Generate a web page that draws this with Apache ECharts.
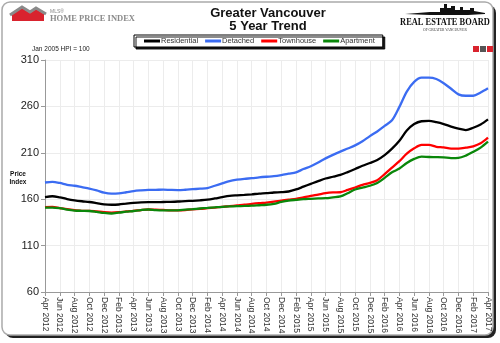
<!DOCTYPE html>
<html><head><meta charset="utf-8">
<script src="https://cdn.jsdelivr.net/npm/echarts@6/dist/echarts.min.js"></script>
<style>html,body{margin:0;padding:0;background:#fff}#c{width:500px;height:343px}</style>
</head><body><div id="c"></div>
<script>
var months = [];
var monNames = ['Jan','Feb','Mar','Apr','May','Jun','Jul','Aug','Sep','Oct','Nov','Dec'];
(function(){ for (var k = 0; k < 61; k++) { var m = (3 + k) % 12; var y = 2012 + Math.floor((3 + k) / 12); months.push(monNames[m] + ' ' + y); } })();

var residential = [162.3,163.2,162,160.2,158.8,157.8,157,155.8,154.5,154,154.3,155.2,156,156.6,156.8,156.8,157,157.2,157.5,158,158.3,158.8,159.5,160.8,162.3,163.6,164.2,164.7,165.3,166,166.5,167.2,167.6,168.3,170.5,173.5,176.5,179.5,182.3,184.2,186.2,189.2,192.5,196,199,202.3,207.5,214.5,223,234,241,244,244.3,243,241,238.3,236,234.5,237,240.5,246];
var detached = [178,178.7,177.5,175.5,174.5,173,171.5,169.5,167,166,166.3,167.5,168.8,169.5,170,170.1,170.3,170,169.8,170.2,170.8,171.3,172,174.5,177,179.5,181,182,182.6,183.5,184.2,184.8,186,187.5,189,192.5,195.5,199.5,204,207.8,211.3,214.6,218,222.5,228,233,239,245,259.5,276,286.5,291,291,289.5,285,279,273,271.5,271.5,275,279.5];
var townhouse = [151.5,151.8,150.5,149.2,148.2,147.5,147.5,146.8,146,145.6,146,146.8,147.4,148.3,148.9,148.7,148.4,148,148,148.3,149,149.5,150.3,151,151.8,152.5,153.3,154,155,155.8,156.4,157.3,158.5,159.5,160.4,162,163.6,165,166.5,167.3,167.5,170,172.6,175.5,177.5,180.5,187,194,201,209,214.8,218.5,218.5,216.5,215.8,214.5,214.5,215.5,217,220.2,226.3];
var apartment = [151,151,150.3,148.8,147.8,147.5,147.3,146.3,145.2,144.6,145.5,146.5,147.3,148.3,148.9,148.2,147.9,147.9,148,148.7,149.3,150,150.6,151.2,151.8,152.2,152.5,152.7,153,153.5,154,155,157,158.5,159.3,160,160.4,160.8,161.1,162,163,166.5,170.5,172.5,174.5,177.5,183,189,193,199,203.4,205.9,205.5,205.3,205,204.3,204.5,207,211,215.6,222];
var seriesNames = ['Residential','Detached','Townhouse','Apartment'];
var seriesColors = ['#000000','#3b6cf2','#ff0000','#0a870a'];
var yTicks = [60,110,160,210,260,310];

var chart = echarts.init(document.getElementById('c'));
var dataSets = [residential, detached, townhouse, apartment];
var series = dataSets.map(function(d, i){
  return { name: seriesNames[i], type: 'line', data: d, smooth: 0.3, symbol: 'none',
    lineStyle: { width: 2.3, color: seriesColors[i] }, itemStyle: { color: seriesColors[i] }, z: 3 + i };
});
chart.setOption({
  animation: false,
  backgroundColor: '#fff',
  textStyle: { fontFamily: 'Liberation Sans, Arial, sans-serif' },
  grid: { left: 45, top: 60, right: 12, bottom: 51, containLabel: false },
  legend: {
    data: seriesNames, left: 134, top: 35, itemGap: 7,
    icon: 'rect', itemWidth: 16, itemHeight: 3,
    textStyle: { fontSize: 7.5, color: '#333', padding: [0,0,0,-4] },
    backgroundColor: '#fff', borderColor: '#000', borderWidth: 1,
    padding: [2, 8, 2, 10],
    shadowColor: 'rgba(0,0,0,0.9)', shadowOffsetX: 2, shadowOffsetY: 2, shadowBlur: 0
  },
  title: [
    { text: 'Greater Vancouver', left: 268, top: 7, padding: 0, textAlign: 'center',
      textStyle: { fontSize: 13, fontWeight: 'bold', color: '#111' } },
    { text: '5 Year Trend', left: 268, top: 19.5, padding: 0, textAlign: 'center',
      textStyle: { fontSize: 13, fontWeight: 'bold', color: '#111' } }
  ],
  xAxis: {
    type: 'category', data: months, boundaryGap: false,
    axisLine: { lineStyle: { color: '#999' } },
    axisTick: { interval: 1, length: 4, lineStyle: { color: '#999' } },
    axisLabel: { interval: 1, rotate: -90, fontSize: 8.5, color: '#333', margin: 5 },
    splitLine: { show: true, interval: 1, lineStyle: { color: '#ececec', width: 1 } }
  },
  yAxis: {
    type: 'value', min: 60, max: 310, interval: 50,
    axisLine: { show: true, lineStyle: { color: '#999' } },
    axisTick: { show: true, length: 4, lineStyle: { color: '#999' } },
    axisLabel: { fontSize: 11, color: '#222', margin: 6,
      formatter: function(v){ return yTicks.indexOf(v) >= 0 ? String(v) : ''; } },
    splitLine: { show: true, lineStyle: { color: '#ececec' } }
  },
  graphic: [
    { type: 'rect', shape: { x: 5, y: 5, width: 491, height: 333, r: 8 }, style: { fill: '#222' }, z: -10 },
    { type: 'rect', shape: { x: 2, y: 2, width: 491, height: 333, r: 8 }, style: { fill: '#fff', stroke: '#aaa', lineWidth: 1.5 }, z: -9 },
    { type: 'polygon', shape: { points: [[12,21],[12,14],[22,8],[30,13],[36,9],[44,14],[44,21]] }, style: { fill: '#d9232e' }, z: 10 },
    { type: 'polyline', shape: { points: [[10,15],[22,7],[30,12],[36,8],[46,14]] }, style: { stroke: '#8a8a8a', lineWidth: 3, fill: null }, z: 11 },
    { type: 'text', style: { x: 50, y: 9, text: 'MLS®', fontSize: 5, fill: '#888' }, z: 10 },
    { type: 'text', style: { x: 50, y: 14, text: 'HOME PRICE INDEX', fontSize: 8.5, fontWeight: 'bold', fill: '#8a8a8a', fontFamily: 'Liberation Serif, serif' }, z: 10 },
    { type: 'polygon', shape: { points: [[405,14],[430,12],[440,12],[440,8],[444,8],[444,4],[447,4],[447,8],[451,8],[451,6],[455,6],[455,10],[460,10],[460,7],[463,7],[463,10],[470,10],[470,8],[474,8],[474,11],[485,13],[485,14],[468,15],[430,15]] }, style: { fill: '#111' }, z: 10 },
    { type: 'text', x: 445, y: 17, scaleX: 0.8, style: { x: 0, y: 0, text: 'REAL ESTATE BOARD', align: 'center', fontSize: 10.5, fontWeight: 'bold', fill: '#111', fontFamily: 'Liberation Serif, serif' }, z: 10 },
    { type: 'text', style: { x: 445, y: 28, text: 'OF GREATER VANCOUVER', align: 'center', fontSize: 3.5, fill: '#333', fontFamily: 'Liberation Serif, serif' }, z: 10 },
    { type: 'rect', shape: { x: 473, y: 46, width: 6, height: 6 }, style: { fill: '#d9232e' }, z: 10 },
    { type: 'rect', shape: { x: 480, y: 46, width: 6, height: 6 }, style: { fill: '#555' }, z: 10 },
    { type: 'rect', shape: { x: 487, y: 46, width: 6, height: 6 }, style: { fill: '#d9232e' }, z: 10 },
    { type: 'text', style: { x: 32, y: 46, text: 'Jan 2005 HPI = 100', fontSize: 6.5, fill: '#222' }, z: 10 },
    { type: 'text', style: { x: 18, y: 170, text: 'Price\nIndex', align: 'center', fontSize: 6.5, fontWeight: 'bold', fill: '#111', lineHeight: 8 }, z: 10 }
  ],
  series: series
});
</script></body></html>
